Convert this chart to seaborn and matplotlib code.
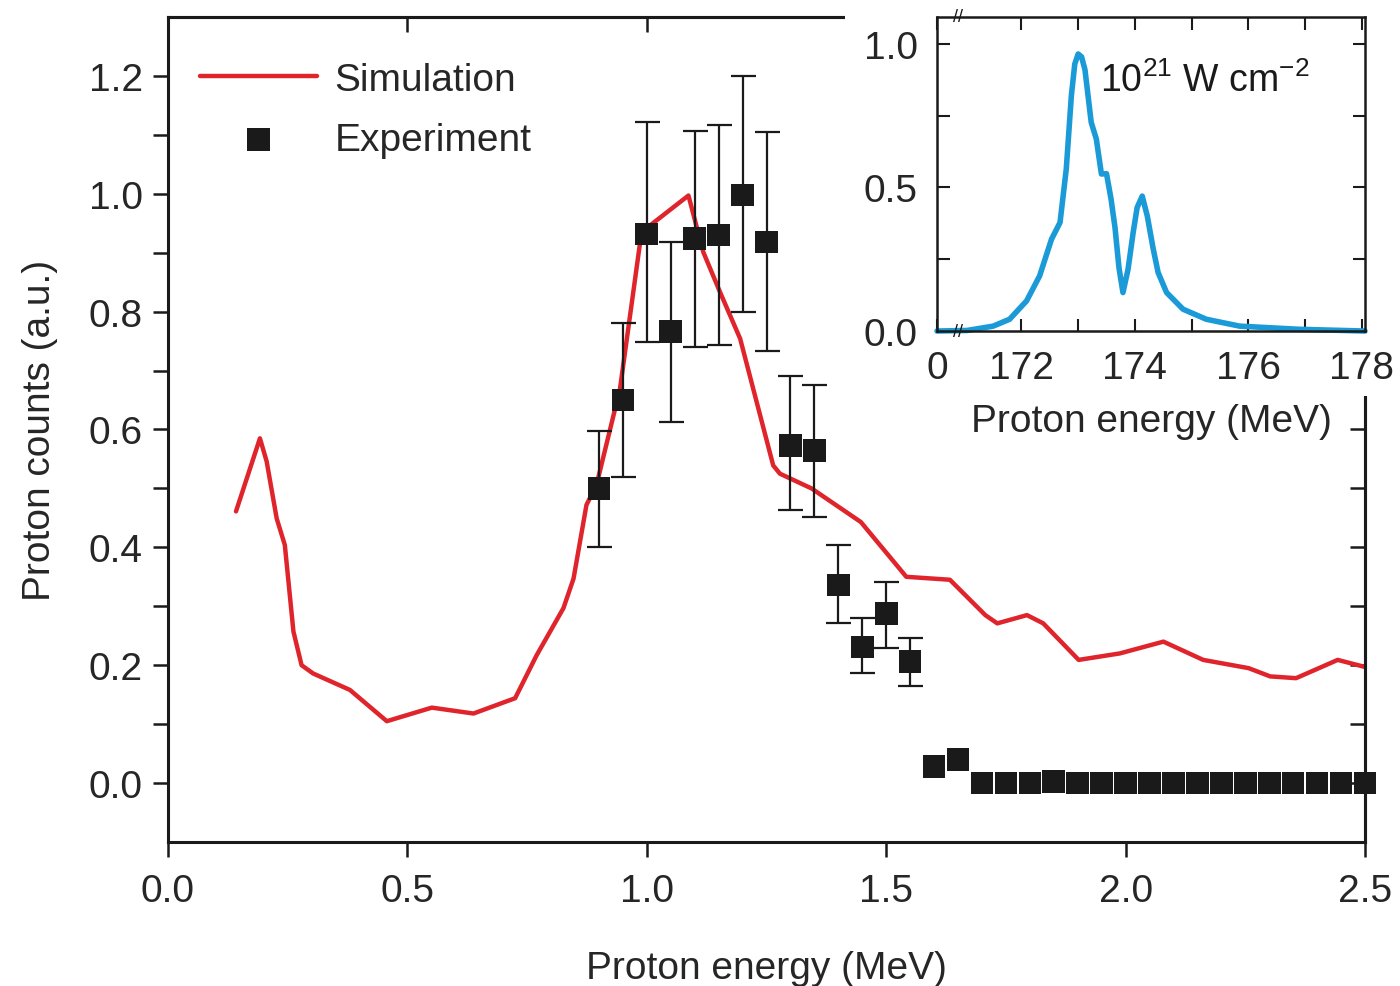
import matplotlib
matplotlib.use("Agg")
import matplotlib.pyplot as plt
import seaborn as sns
from matplotlib.patches import Rectangle
from matplotlib.ticker import FixedLocator

# simulation curve (main panel)
sim_energy = [0.142, 0.192, 0.206, 0.227, 0.244, 0.262, 0.279, 0.303, 0.38, 0.457,
              0.551, 0.638, 0.725, 0.77, 0.826, 0.847, 0.874, 0.895, 0.944, 0.989,
              1.087, 1.118, 1.153, 1.195, 1.264, 1.278, 1.344, 1.447, 1.542, 1.633,
              1.707, 1.732, 1.794, 1.828, 1.902, 1.988, 2.079, 2.162, 2.257, 2.302,
              2.356, 2.443, 2.5]
sim_counts = [0.461, 0.585, 0.546, 0.449, 0.404, 0.257, 0.200, 0.186, 0.158, 0.105,
              0.128, 0.118, 0.144, 0.217, 0.297, 0.347, 0.472, 0.506, 0.669, 0.935,
              0.997, 0.901, 0.833, 0.754, 0.539, 0.525, 0.500, 0.443, 0.350, 0.345,
              0.285, 0.271, 0.285, 0.271, 0.209, 0.220, 0.240, 0.209, 0.195, 0.181,
              0.178, 0.209, 0.197]

# experiment points
exp_energy = [0.90, 0.95, 1.00, 1.05, 1.10, 1.15, 1.20, 1.25, 1.30, 1.35, 1.40,
              1.45, 1.50, 1.55, 1.60, 1.65, 1.70, 1.75, 1.80, 1.85, 1.90, 1.95,
              2.00, 2.05, 2.10, 2.15, 2.20, 2.25, 2.30, 2.35, 2.40, 2.45, 2.50]
exp_counts = [0.500, 0.650, 0.932, 0.766, 0.924, 0.930, 0.998, 0.918, 0.573, 0.564,
              0.336, 0.231, 0.288, 0.206, 0.028, 0.040, 0.0, 0.0, 0.0, 0.003, 0.0,
              0.0, 0.0, 0.0, 0.0, 0.0, 0.0, 0.0, 0.0, 0.0, 0.0, 0.0, 0.0]
# error bars exist for the first 14 points
err_high = [0.598, 0.780, 1.122, 0.918, 1.107, 1.116, 1.200, 1.104, 0.690, 0.675,
            0.404, 0.280, 0.342, 0.246]
err_low = [0.400, 0.520, 0.749, 0.613, 0.740, 0.743, 0.800, 0.734, 0.463, 0.452,
           0.271, 0.186, 0.229, 0.164]

# inset: spectrum at 10^21 W cm^-2
inset_energy = [170.51, 171.04, 171.5, 171.79, 172.09, 172.32, 172.53, 172.68, 172.79,
                172.88, 172.94, 173.0, 173.06, 173.12, 173.23, 173.32, 173.41, 173.5,
                173.58, 173.65, 173.72, 173.79, 173.88, 173.97, 174.04, 174.13, 174.22,
                174.32, 174.41, 174.56, 174.85, 175.26, 175.85, 176.9, 178.06]
inset_counts = [0.0, 0.002, 0.017, 0.041, 0.105, 0.192, 0.32, 0.378, 0.564, 0.82,
                0.93, 0.965, 0.955, 0.91, 0.727, 0.669, 0.547, 0.548, 0.46, 0.36,
                0.22, 0.134, 0.215, 0.343, 0.43, 0.47, 0.40, 0.29, 0.204, 0.134,
                0.076, 0.041, 0.017, 0.006, 0.0]

RED = "#e0242c"
BLUE = "#1b9ad8"
INK = "#1a1a1a"
FS = 28

sns.set_style("ticks")
plt.rcParams["font.family"] = ["Liberation Sans", "DejaVu Sans"]
plt.rcParams["mathtext.fontset"] = "custom"
plt.rcParams["mathtext.rm"] = "Liberation Sans"
plt.rcParams["mathtext.it"] = "Liberation Sans"

fig = plt.figure(figsize=(14, 9.87), dpi=100)
ax = fig.add_axes([0.12, 0.1459, 0.855, 0.8359])

sns.lineplot(x=sim_energy, y=sim_counts, ax=ax, color=RED, lw=3.2, sort=False,
             estimator=None, label="Simulation", solid_joinstyle="round")
ax.errorbar(exp_energy[:14], exp_counts[:14],
            yerr=[[c - lo for c, lo in zip(exp_counts[:14], err_low)],
                  [hi - c for c, hi in zip(exp_counts[:14], err_high)]],
            fmt="none", ecolor=INK, elinewidth=1.6, capsize=9, capthick=1.6, zorder=3)
sns.scatterplot(x=exp_energy, y=exp_counts, ax=ax, marker="s", s=265, color=INK,
                edgecolor="none", label="Experiment", zorder=5, clip_on=False)

ax.set_xlim(0, 2.5)
ax.set_ylim(-0.1, 1.3)
ax.set_xticks([0, 0.5, 1.0, 1.5, 2.0, 2.5])
ax.set_xticklabels(["0.0", "0.5", "1.0", "1.5", "2.0", "2.5"])
ax.set_yticks([0.0, 0.2, 0.4, 0.6, 0.8, 1.0, 1.2])
ax.set_yticklabels(["0.0", "0.2", "0.4", "0.6", "0.8", "1.0", "1.2"])
ax.yaxis.set_minor_locator(FixedLocator([0.1, 0.3, 0.5, 0.7, 0.9, 1.1]))
ax.tick_params(which="both", direction="out", length=11, width=1.8, labelsize=FS,
               pad=7, color=INK)
ax.tick_params(axis="x", pad=11)
for s in ax.spines.values():
    s.set_linewidth(2.2)
    s.set_color(INK)

# inward ticks on top and right
top = ax.secondary_xaxis("top")
top.set_xticks([0.5, 1.0, 1.5, 2.0])
top.tick_params(direction="in", length=11, width=1.8, labeltop=False, color=INK)
top.spines["top"].set_linewidth(2.2)
right = ax.secondary_yaxis("right")
right.set_yticks([0.0, 0.1, 0.2, 0.3, 0.4, 0.5, 0.6, 0.7, 0.8, 0.9, 1.0, 1.1, 1.2])
right.tick_params(direction="in", length=11, width=1.8, labelright=False, color=INK)
right.spines["right"].set_linewidth(2.2)

ax.set_xlabel("Proton energy (MeV)", fontsize=FS, labelpad=30)
ax.set_ylabel("Proton counts (a.u.)", fontsize=FS, labelpad=22)

ax.legend(loc="upper left", bbox_to_anchor=(0.027, 0.946), frameon=False, fontsize=FS,
          handlelength=3.0, handletextpad=0.45, labelspacing=0.62, borderaxespad=0,
          borderpad=0)

# white box behind the inset
fig.patches.append(Rectangle((0.6036, 0.598), 0.4, 0.41, transform=fig.transFigure,
                             facecolor="white", edgecolor="none", zorder=1))

axi = fig.add_axes([0.6693, 0.6636, 0.3057, 0.3182], zorder=3)
sns.lineplot(x=inset_energy, y=inset_counts, ax=axi, color=BLUE, lw=4, sort=False,
             estimator=None, clip_on=False, solid_joinstyle="round",
             solid_capstyle="round")
axi.set_xlim(170.51, 178.06)
axi.set_ylim(0, 1.094)
axi.set_xticks([170.51, 172, 174, 176, 178])
axi.set_xticklabels(["0", "172", "174", "176", "178"])
axi.xaxis.set_minor_locator(FixedLocator([173, 175, 177]))
axi.set_yticks([0.0, 0.5, 1.0])
axi.set_yticklabels(["0.0", "0.5", "1.0"])
axi.yaxis.set_minor_locator(FixedLocator([0.25, 0.75]))
axi.tick_params(which="both", direction="in", length=9, width=1.5, top=True,
                right=True, labelsize=FS, pad=14, color=INK)
for s in axi.spines.values():
    s.set_linewidth(1.8)
    s.set_color(INK)
axi.set_xlabel("Proton energy (MeV)", fontsize=FS, labelpad=12)
axi.set_ylabel("")
for yb in (0.0, 1.0):
    axi.text(0.05, yb, "//", transform=axi.transAxes, ha="center", va="center",
             fontsize=13, color=INK, clip_on=False)
axi.text(0.38, 0.80, r"10$^{21}$ W cm$^{-2}$", transform=axi.transAxes, ha="left",
         va="center", fontsize=27, color=INK)

fig.savefig("out.png", dpi=100)
